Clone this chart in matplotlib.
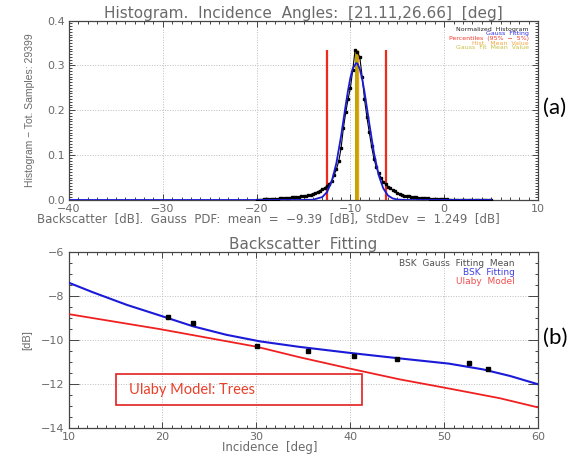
import numpy as np
import matplotlib
matplotlib.use("Agg")
import matplotlib.pyplot as plt
from matplotlib.ticker import MultipleLocator

# ---- panel (a): histogram of backscatter ----
hist_x = np.arange(-20, 5.01, 0.25)
hist_y = [0.001, 0.001, 0.001, 0.002,
          0.002, 0.002, 0.002, 0.003,
          0.003, 0.003, 0.004, 0.004,
          0.004, 0.005, 0.005, 0.006,
          0.006, 0.007, 0.007, 0.008,
          0.009, 0.009, 0.011, 0.012,
          0.014, 0.016, 0.018, 0.021,
          0.024, 0.027, 0.031, 0.036,
          0.042, 0.055, 0.068, 0.086,
          0.115, 0.160, 0.195, 0.225,
          0.250, 0.290, 0.335, 0.330,
          0.318, 0.275, 0.225, 0.185,
          0.152, 0.120, 0.092, 0.074,
          0.060, 0.050, 0.041, 0.035,
          0.030, 0.026, 0.022, 0.019,
          0.016, 0.014, 0.012, 0.010,
          0.009, 0.008, 0.007, 0.006,
          0.006, 0.005, 0.005, 0.004,
          0.004, 0.004, 0.003, 0.003,
          0.003, 0.002, 0.002, 0.002,
          0.002, 0.002, 0.001, 0.001,
          0.001, 0.001, 0.001, 0.001,
          0.001, 0.001, 0.001, 0.001,
          0.001, 0.001, 0.001, 0.001,
          0.001, 0.001, 0.001, 0.001,
          0.001]

gauss_x = [-40, -16, -15, -14, -13, -12.5, -12, -11.5, -11, -10.5, -10.25, -10,
           -9.75, -9.39, -9.25, -9, -8.75, -8.5, -8, -7.5, -7, -6.5, -6, -5.5,
           -5, -4, 5]
gauss_y = [0, 0, 0.0001, 0.0006, 0.0065, 0.0175, 0.041, 0.082, 0.142, 0.212, 0.245, 0.273,
           0.293, 0.305, 0.304, 0.292, 0.270, 0.241, 0.172, 0.106, 0.056, 0.026, 0.010, 0.0035,
           0.001, 0, 0]

percentiles = [-12.46, -6.24]
hist_mean = -9.27
gauss_mean = -9.39
bar_top = 0.335

# ---- panel (b): backscatter fitting ----
inc_pts = [20.55, 23.3, 30.1, 35.5, 40.4, 44.95, 52.6, 54.6]
bsk_pts = [-8.99, -9.26, -10.28, -10.50, -10.73, -10.87, -11.06, -11.33]

fit_x = [10, 12.6, 16.2, 19.7, 23.3, 26.8, 30.4, 34.6, 39.9, 45.2, 50.5, 54.1, 57.0, 60]
fit_y = [-7.41, -7.85, -8.42, -8.90, -9.40, -9.78, -10.08, -10.33, -10.60, -10.85,
         -11.09, -11.35, -11.65, -12.03]

ulaby_x = [10, 19.7, 30, 34.6, 39.9, 45.2, 50.5, 55.9, 60]
ulaby_y = [-8.84, -9.52, -10.32, -10.80, -11.31, -11.80, -12.22, -12.66, -13.08]

TXT = '#6a6a6a'
SP = '#454545'
GRID = dict(color='#bdbdbd', linestyle=':', linewidth=0.7)


def style_axes(ax):
    for s in ax.spines.values():
        s.set_color(SP)
        s.set_linewidth(0.9)
    ax.tick_params(which='both', direction='in', top=True, right=True,
                   colors=SP, labelcolor=TXT, labelsize=8, width=0.7)
    ax.tick_params(which='major', length=4, pad=3)
    ax.tick_params(which='minor', length=2.5)


fig = plt.figure(figsize=(5.85, 4.54), dpi=100)

# panel (a)
ax1 = fig.add_axes([0.118, 0.5595, 0.8017, 0.3953])
ax1.vlines(percentiles, 0, bar_top, color='#f02a1a', linewidth=1.6, zorder=2)
ax1.vlines(hist_mean, 0, bar_top, color='#eea21a', linewidth=2.4, zorder=2)
ax1.vlines(gauss_mean, 0, bar_top, color='#c4a400', linewidth=2.2, zorder=2)
ax1.plot(hist_x, hist_y, color='black', linewidth=0.8, marker='s', markersize=1.9, zorder=3)
ax1.plot(gauss_x, gauss_y, color='#1a1ad0', linewidth=1.3, zorder=4)
ax1.set_xlim(-40, 10)
ax1.set_ylim(0, 0.4)
ax1.xaxis.set_major_locator(MultipleLocator(10))
ax1.xaxis.set_minor_locator(MultipleLocator(1))
ax1.yaxis.set_minor_locator(MultipleLocator(0.00625))
ax1.set_yticks([0, 0.1, 0.2, 0.3, 0.4])
ax1.set_yticklabels(['0.0', '0.1', '0.2', '0.3', '0.4'])
ax1.set_xticks([-40, -30, -20, -10, 0, 10])
ax1.set_xticklabels(['\u221240', '\u221230', '\u221220', '\u221210', '0', '10'])
ax1.grid(True, which='major', **GRID)
style_axes(ax1)
ax1.set_title('Histogram.  Incidence  Angles:  [21.11,26.66]  [deg]', color=TXT,
              fontsize=11, pad=2)
ax1.set_xlabel('Backscatter  [dB].  Gauss  PDF:  mean  =  \u22129.39  [dB],  StdDev  =  1.249  [dB]',
               color=TXT, fontsize=8.5, labelpad=0)
ax1.xaxis.set_label_coords(0.424, -0.072)
ax1.set_ylabel('Histogram \u2212 Tot. Samples: 29399', color=TXT, fontsize=7.5,
               family='Liberation Sans', labelpad=9)

leg_a = [('Normalized  Histogram', '#202020'), ('Gauss  Fitting', '#3030e0'),
         ('Percentiles  (95%  \u2212  5%)', '#f03a2a'), ('Hist.  Mean  Value', '#f4a640'),
         ('Gauss  Fit  Mean  Value', '#c8c040')]
for i, (t, c) in enumerate(leg_a):
    ax1.text(0.98, 0.965 - i * 0.026, t, transform=ax1.transAxes, ha='right', va='top',
             fontsize=4.5, color=c)

# panel (b)
ax2 = fig.add_axes([0.1171, 0.0579, 0.803, 0.388])
ax2.plot(fit_x, fit_y, color='#1a1ad8', linewidth=1.5, zorder=3)
ax2.plot(ulaby_x, ulaby_y, color='#f02020', linewidth=1.3, zorder=3)
ax2.plot(inc_pts, bsk_pts, linestyle='none', marker='s', markersize=3.5, color='black', zorder=4)
ax2.set_xlim(10, 60)
ax2.set_ylim(-14, -6)
ax2.xaxis.set_major_locator(MultipleLocator(10))
ax2.xaxis.set_minor_locator(MultipleLocator(1))
ax2.yaxis.set_major_locator(MultipleLocator(2))
ax2.yaxis.set_minor_locator(MultipleLocator(0.5))
ax2.grid(True, which='major', **GRID)
style_axes(ax2)
ax2.tick_params(which='major', length=7)
ax2.tick_params(axis='x', which='major', length=4)
ax2.set_yticks([-14, -12, -10, -8, -6])
ax2.set_yticklabels(['\u221214', '\u221212', '\u221210', '\u22128', '\u22126'])
ax2.set_title('Backscatter  Fitting', color=TXT, fontsize=11, pad=2)
ax2.set_xlabel('Incidence  [deg]', color=TXT, fontsize=8.5, labelpad=0)
ax2.xaxis.set_label_coords(0.429, -0.078)
ax2.set_ylabel('[dB]', color=TXT, fontsize=8, family='Liberation Sans', labelpad=6)

leg_b = [('BSK  Gauss  Fitting  Mean', '#505050'), ('BSK  Fitting', '#4040e0'),
         ('Ulaby  Model', '#f05050')]
for i, (t, c) in enumerate(leg_b):
    ax2.text(0.95, 0.935 - i * 0.052, t, transform=ax2.transAxes, ha='right', va='center',
             fontsize=6.5, color=c)

ax2.add_patch(plt.Rectangle((15.1, -12.95), 26.1, 1.39, fill=False,
                            edgecolor='#e02020', linewidth=1.2, zorder=5))
ax2.text(16.4, -12.27, 'Ulaby Model: Trees', color='#e8402a', fontsize=10.5,
         family='Lato', va='center', ha='left', zorder=5)

fig.text(555 / 585, 1 - 108 / 454, '(a)', fontsize=16, family='Lato', ha='center', va='center')
fig.text(555 / 585, 1 - 338 / 454, '(b)', fontsize=16, family='Lato', ha='center', va='center')

fig.savefig('out.png', dpi=100)
